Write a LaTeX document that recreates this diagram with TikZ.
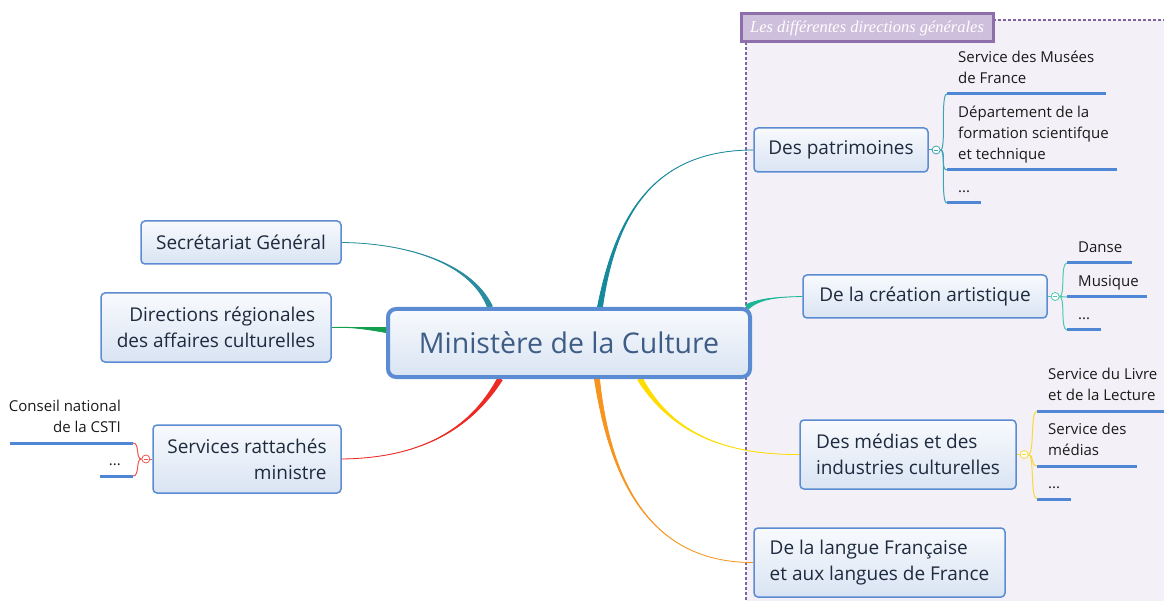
\documentclass[tikz,border=0pt]{standalone}
\usepackage{fontspec}
\setmainfont{Open Sans}
\newfontfamily\titlefont{Liberation Serif}
\usetikzlibrary{calc,positioning}

\definecolor{topicblue}{HTML}{5B8CD3}
\definecolor{topictop}{HTML}{F8FAFD}
\definecolor{topicbot}{HTML}{D9E4F3}
\definecolor{topictext}{HTML}{1E2B3E}
\definecolor{centertext}{HTML}{3E5D86}
\definecolor{leaftext}{HTML}{1A1A1A}
\definecolor{leafblue}{HTML}{4F86D6}
\definecolor{grpfill}{HTML}{F3F1F7}
\definecolor{grpline}{HTML}{7E62A0}
\definecolor{grptitlefill}{HTML}{CEC0DC}
\definecolor{grptitleline}{HTML}{8D6FAC}
\definecolor{brteal}{HTML}{168A9C}
\definecolor{sgteal}{HTML}{2A8C9E}
\definecolor{drgreen}{HTML}{12A04E}
\definecolor{srred}{HTML}{EE2A24}
\definecolor{langorange}{HTML}{F7941E}
\definecolor{mediyellow}{HTML}{FFDD00}
\definecolor{creagreen}{HTML}{1DB597}
\definecolor{patrleaf}{HTML}{3FA3B3}
\definecolor{crealeaf}{HTML}{4CC9AE}
\definecolor{medileaf}{HTML}{F9D938}
\definecolor{srmleaf}{HTML}{F0554F}

\pgfdeclarelayer{back}
\pgfdeclarelayer{bg}
\pgfsetlayers{back,bg,main}

% tapered branch: colour, root, control 1, control 2, end
\newcommand\mapbranch[5]{%
  \filldraw[#1, line width=0.8pt] ($(#2)!2.5pt!90:(#3)$) .. controls (#3) and (#4) .. (#5)
    .. controls (#4) and (#3) .. ($(#2)!2.5pt!-90:(#3)$) -- cycle;}

\begin{document}
\begin{tikzpicture}[x=1pt, y=-1pt,
    topic/.style={draw=topicblue, line width=1.5pt, rounded corners=4pt,
      top color=topictop, bottom color=topicbot, text=topictext,
      font=\fontsize{19}{26}\selectfont, inner sep=0pt},
    central/.style={topic, line width=4pt, rounded corners=8pt,
      text=centertext, font=\fontsize{28.5}{32}\selectfont},
    leaf/.style={inner xsep=11pt, inner ysep=6pt, text depth=4pt,
      text=leaftext, font=\fontsize{15}{21}\selectfont},
    leafline/.style={leafblue, line width=3pt},
    marker/.style={circle, draw=#1, fill=white, line width=0.8pt,
      minimum size=8pt, inner sep=0pt,
      path picture={\draw[#1, line width=0.6pt]
        ([xshift=-2pt]path picture bounding box.center) --
        ([xshift=2pt]path picture bounding box.center);}},
    bracket/.style={#1, line width=1pt},
    grpborder/.style={grpline, line width=2.6pt, dash pattern=on 2.6pt off 2.4pt},
  ]
  \useasboundingbox (0,0) rectangle (1164,601);

  % group area
  \begin{pgfonlayer}{back}
    \fill[grpfill] (746,20) rectangle (1164,601);
    \draw[grpborder] (993,20) -- (1164,20);
    \draw[grpborder] (746,42) -- (746,601);
  \end{pgfonlayer}
  \node[fill=grptitlefill, draw=grptitleline, line width=3pt,
    minimum width=252pt, minimum height=28pt, inner sep=0pt,
    text=white, font=\titlefont\itshape\fontsize{16.5}{18}\selectfont]
    (grp) at (867,28) {Les différentes directions générales};

  % centre
  \node[central, minimum width=362pt, minimum height=68pt] (min) at (569,343)
    {Ministère de la Culture};

  % left topics
  \node[topic, minimum width=200pt, minimum height=43pt] (sg) at (241,242.5)
    {Secrétariat Général};
  \node[topic, align=right, minimum width=230pt, minimum height=69pt] (drac) at (216,327.5)
    {Directions régionales\\des affaires culturelles};
  \node[topic, align=right, minimum width=188pt, minimum height=68pt] (srm) at (247,459)
    {Services rattachés\\ministre};

  % right topics
  \node[topic, minimum width=174pt, minimum height=44pt] (patr) at (841,150)
    {Des patrimoines};
  \node[topic, minimum width=244pt, minimum height=43pt] (crea) at (925,296.5)
    {De la création artistique};
  \node[topic, align=left, minimum width=216pt, minimum height=69pt] (medi) at (908,454.5)
    {Des médias et des\\industries culturelles};
  \node[topic, align=left, minimum width=251pt, minimum height=69pt] (lang) at (879.5,562.5)
    {De la langue Française\\et aux langues de France};

  % markers
  \node[marker=patrleaf, right=3pt of patr] (mkpatr) {};
  \node[marker=crealeaf, right=3pt of crea] (mkcrea) {};
  \node[marker=medileaf, right=3pt of medi] (mkmedi) {};
  \node[marker=srmleaf, left=2pt of srm] (mksrm) {};

  % leaves
  \node[leaf, align=left, anchor=south west] (patr1) at (947,94) {Service des Musées\\de France};
  \node[leaf, align=left, anchor=south west] (patr2) at (947,170) {Département de la\\formation scientifque\\et technique};
  \node[leaf, align=left, anchor=south west] (patr3) at (947,203) {...};
  \node[leaf, align=left, anchor=south west] (crea1) at (1067,263) {Danse};
  \node[leaf, align=left, anchor=south west] (crea2) at (1067,297) {Musique};
  \node[leaf, align=left, anchor=south west] (crea3) at (1067,330) {...};
  \node[leaf, align=left, anchor=south west] (medi1) at (1037,411) {Service du Livre\\et de la Lecture};
  \node[leaf, align=left, anchor=south west] (medi2) at (1037,466) {Service des\\médias};
  \node[leaf, align=left, anchor=south west] (medi3) at (1037,499) {...};
  \node[leaf, align=right, anchor=south east, inner xsep=12pt] (srm1) at (133,443) {Conseil national\\de la CSTI};
  \node[leaf, align=right, anchor=south east, inner xsep=12pt] (srm2) at (133,476) {...};

  \draw[leafline] (patr1.south west) -- +(159,0);
  \draw[leafline] (patr2.south west) -- +(170,0);
  \draw[leafline] (patr3.south west) -- +(34,0);
  \draw[leafline] (crea1.south west) -- +(65,0);
  \draw[leafline] (crea2.south west) -- +(80,0);
  \draw[leafline] (crea3.south west) -- +(34,0);
  \draw[leafline] (medi1.south west) -- +(127,0);
  \draw[leafline] (medi2.south west) -- +(100,0);
  \draw[leafline] (medi3.south west) -- +(34,0);
  \draw[leafline] (srm1.south east) -- +(-123,0);
  \draw[leafline] (srm2.south east) -- +(-33,0);

  % brackets
  \draw[bracket=patrleaf] (patr) -- (mkpatr);
  \foreach \l in {patr1,patr2,patr3}
    \draw[bracket=patrleaf] (mkpatr.east) .. controls +(6,0) and +(-7,0) .. (\l.south west);
  \draw[bracket=crealeaf] (crea) -- (mkcrea);
  \foreach \l in {crea1,crea2,crea3}
    \draw[bracket=crealeaf] (mkcrea.east) .. controls +(6,0) and +(-7,0) .. (\l.south west);
  \draw[bracket=medileaf] (medi) -- (mkmedi);
  \foreach \l in {medi1,medi2,medi3}
    \draw[bracket=medileaf] (mkmedi.east) .. controls +(6,0) and +(-7,0) .. (\l.south west);
  \draw[bracket=srmleaf] (srm) -- (mksrm);
  \foreach \l in {srm1,srm2}
    \draw[bracket=srmleaf] (mksrm.west) .. controls +(-6,0) and +(7,0) .. (\l.south east);

  % branches from the centre
  \begin{pgfonlayer}{bg}
    \coordinate (rpatr) at ([xshift=31pt]min.north);
    \coordinate (rsg) at ([xshift=-79pt]min.north);
    \coordinate (rdrac) at ([yshift=13pt]min.west);
    \coordinate (rsrm) at ([xshift=-69pt]min.south);
    \coordinate (rlang) at ([xshift=28pt]min.south);
    \coordinate (rmedi) at ([xshift=71pt]min.south);
    \coordinate (rcrea) at ([xshift=-5pt]min.north east);
    \mapbranch{brteal}{rpatr}{615,220}{650,150}{patr.west}
    \mapbranch{sgteal}{rsg}{470,260}{400,243}{sg.east}
    \mapbranch{drgreen}{rdrac}{360,328}{350,327}{drac.east}
    \mapbranch{srred}{rsrm}{470,430}{420,458}{srm.east}
    \mapbranch{langorange}{rlang}{610,480}{650,563}{lang.west}
    \mapbranch{mediyellow}{rmedi}{670,430}{720,455}{medi.west}
    \mapbranch{creagreen}{rcrea}{760,298}{780,297}{crea.west}
  \end{pgfonlayer}
\end{tikzpicture}
\end{document}
